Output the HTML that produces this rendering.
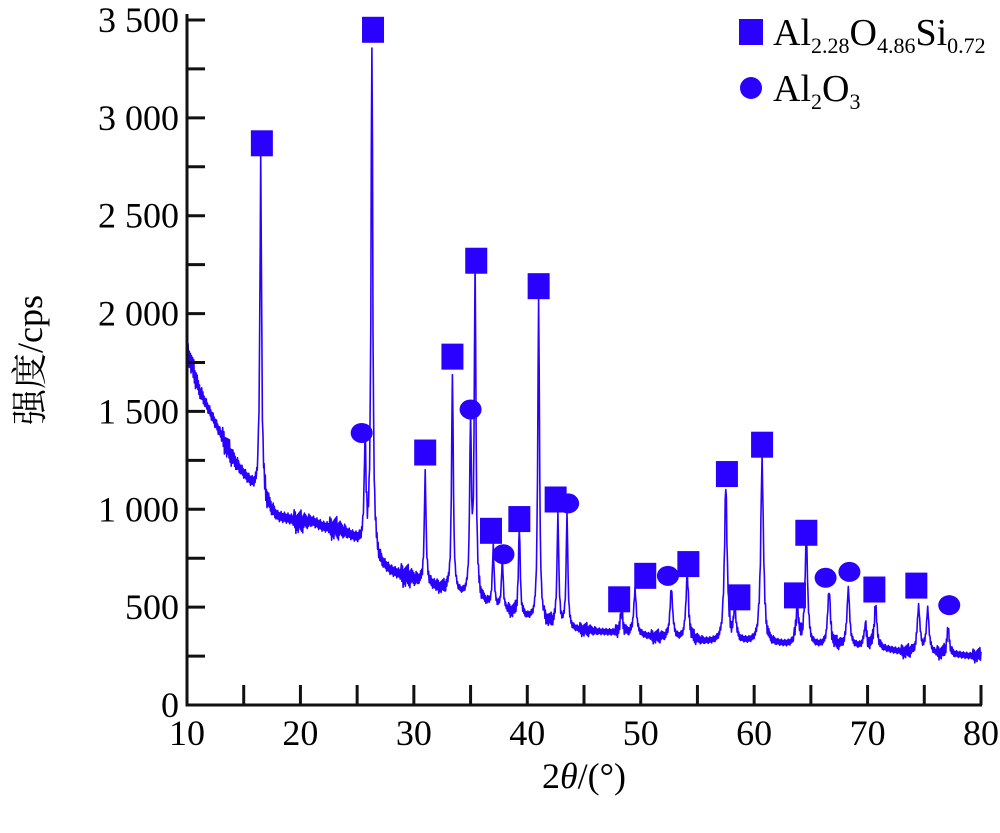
<!DOCTYPE html>
<html><head><meta charset="utf-8"><style>
html,body{margin:0;padding:0;background:#fff;}
svg{display:block;font-family:"Liberation Serif","Noto Serif CJK SC",serif;}
</style></head><body>
<svg id="chart" width="1000" height="833" viewBox="0 0 1000 833" xmlns="http://www.w3.org/2000/svg">
<g id="plot"></g>
<g id="axes"></g>
<text transform="translate(42,360) rotate(-90)" text-anchor="middle" font-size="36" font-family="'Liberation Serif','Noto Serif CJK SC',serif">强度/cps</text>
<text x="584" y="788" text-anchor="middle" font-size="36">2<tspan font-style="italic">θ</tspan>/(°)</text>
<g>
<rect x="739" y="19" width="24" height="26" fill="#2a00ff"/>
<text x="773" y="45" font-size="38">Al<tspan font-size="22" dy="8">2.28</tspan><tspan dy="-8">O</tspan><tspan font-size="22" dy="8">4.86</tspan><tspan dy="-8">Si</tspan><tspan font-size="22" dy="8">0.72</tspan></text>
<circle cx="751" cy="88" r="11" fill="#2a00ff"/>
<text x="773" y="101" font-size="38">Al<tspan font-size="22" dy="8">2</tspan><tspan dy="-8">O</tspan><tspan font-size="22" dy="8">3</tspan></text>
</g>
</svg>
<script>
const baseX = [10,11,12,13,14,15,16,17,18,19,20,21,22,23,24,25,26,27,28,29,30,31,32,33,34,35,36,37,38,39,40,41,42,43,44,45,46,47,48,49,50,51,52,53,54,55,56,57,58,59,60,61,62,63,64,65,66,67,68,69,70,71,72,73,74,75,76,77,78,79,80];
const baseY = [1820,1620,1500,1380,1260,1180,1100,1020,960,950,930,940,910,900,880,840,800,720,680,660,640,620,600,580,560,540,520,500,480,460,440,420,410,400,385,380,375,370,365,360,355,345,340,335,330,325,320,318,315,320,315,310,310,305,305,300,300,300,295,295,290,290,280,270,265,270,260,255,255,250,255];
const jitter = [60,-40,50,-70,30,-50,40,-60,50,-30,60,-40,70,-50,30,-60,40,-30,50,-20,40,-30,30,-40,20,-30,40,-20,30,-30,20,-30,20,-20,30,-20,20,-30,20,-20,30,-20,20,-30,20,-20,30,-20,20,-30,20,-20,30,-20,20,-30,20,-20,30,-20,20,-30,20];
const peakPos = [16.5,25.7,26.3,31.0,33.4,35.0,35.4,37.0,37.8,39.3,41.0,42.7,43.5,48.3,49.5,52.7,54.1,57.5,58.3,60.7,63.8,64.6,66.6,68.3,69.8,70.7,74.5,75.3,77.1];
const peakTop = [2790,1330,3380,1180,1690,1420,2200,800,740,900,2080,960,960,470,580,590,660,1120,470,1250,490,840,580,590,400,500,500,480,380];
const squareX = [16.6,26.4,31.0,33.4,35.5,36.8,39.3,41.0,42.5,48.1,50.4,54.2,57.6,58.7,60.7,63.6,64.6,70.6,74.3];
const squareY = [2870,3450,1290,1780,2270,890,950,2140,1050,540,660,720,1180,550,1330,560,880,590,610];
const circleX = [25.4,35.0,37.9,43.6,52.4,66.3,68.4,77.2];
const circleY = [1390,1510,770,1030,660,650,680,510];
const xTicks = [10,20,30,40,50,60,70,80];
const yTicks = [0,500,1000,1500,2000,2500,3000,3500];
const yTickLabels = ["0","500","1 000","1 500","2 000","2 500","3 000","3 500"];

const X0=187,X1=981,Y0=705,Y1=20;
const sx = v => X0+(v-10)*(X1-X0)/70;
const sy = v => Y0-(v)*(Y0-Y1)/3500;
const NS="http://www.w3.org/2000/svg";
const plot=document.getElementById('plot'), axes=document.getElementById('axes');
function mk(tag,attrs,parent){const e=document.createElementNS(NS,tag);for(const k in attrs)e.setAttribute(k,attrs[k]);parent.appendChild(e);return e;}
function base(x){
  let i=Math.min(Math.floor(x-10),69); const t=x-10-i;
  return baseY[i]*(1-t)+baseY[i+1]*t;
}
// spectrum
let pts=[];
for(let k=0;k<=1400;k++){
  const x=10+k*0.05;
  const b=base(x);
  let y=b+jitter[k%jitter.length]*(b>600?1:0.6)*0.9;
  for(let p=0;p<peakPos.length;p++){
    const h=peakTop[p]-base(peakPos[p]);
    const w=peakPos[p]<45?0.09:0.14;
    const d=(x-peakPos[p])/w;
    y+=h/(1+d*d);
  }
  pts.push(sx(x).toFixed(1)+','+sy(y).toFixed(1));
}
const line=mk('polyline',{points:pts.join(' '),fill:'none',stroke:'#2a00ff','stroke-width':1.6,'stroke-linejoin':'round'},plot);


for(let i=0;i<squareX.length;i++){
  const r=mk('rect',{x:sx(squareX[i])-11,y:sy(squareY[i])-13,width:22,height:26,fill:'#2a00ff'},plot);
  
  
}
for(let i=0;i<circleX.length;i++){
  const c=mk('ellipse',{cx:sx(circleX[i]),cy:sy(circleY[i]),rx:11,ry:10,fill:'#2a00ff'},plot);
  
  
}
// axes
const ax=mk('path',{d:`M${X0},${Y1-6} V${Y0} H${X1+1}`,fill:'none',stroke:'#111','stroke-width':3},axes);


for(let v=10;v<=80;v+=5){
  const t=mk('line',{x1:sx(v),x2:sx(v),y1:Y0,y2:Y0-20,stroke:'#111','stroke-width':3},axes);
  
  
}
xTicks.forEach(v=>{
  const t=mk('text',{x:sx(v),y:Y0+40,'text-anchor':'middle','font-size':36},axes);
  t.textContent=v;
  
  
});
for(let v=0;v<=3500;v+=250){
  const t=mk('line',{x1:X0,x2:X0+18,y1:sy(v),y2:sy(v),stroke:'#111','stroke-width':3},axes);
  
  
}
yTicks.forEach((v,i)=>{
  const t=mk('text',{x:X0-8,y:sy(v)+12,'text-anchor':'end','font-size':36},axes);
  t.textContent=yTickLabels[i];
  
  
});
</script>
</body></html>
